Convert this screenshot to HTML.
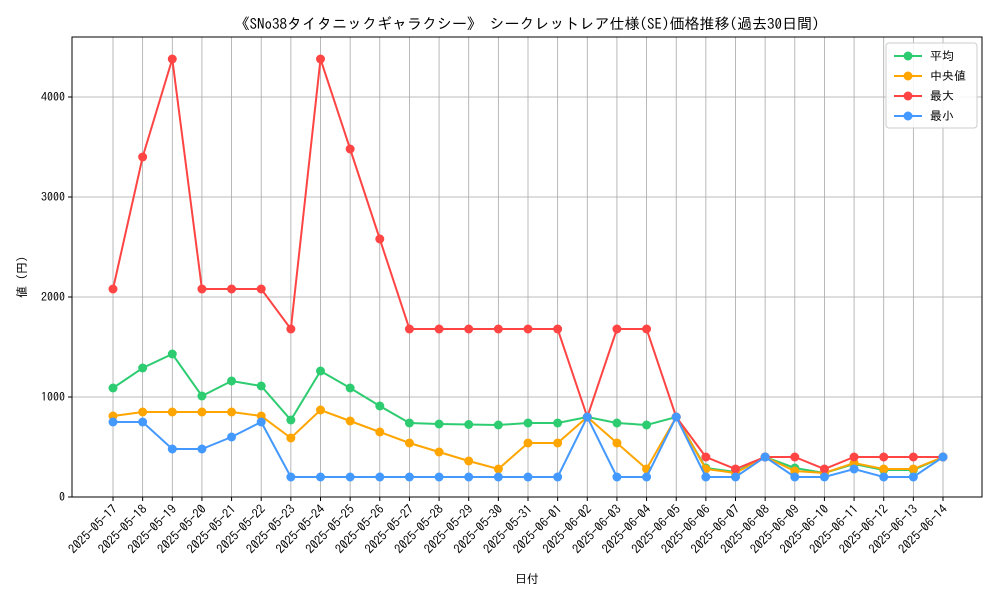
<!DOCTYPE html>
<html><head><meta charset="utf-8"><style>
body{margin:0;background:#fff;font-family:"Liberation Sans","IPAGothic","Noto Sans CJK JP",sans-serif}
svg text{font-family:"IPAGothic","Noto Sans CJK JP",sans-serif;fill:#000}
</style></head><body>
<svg id="c" width="1000" height="600" xmlns="http://www.w3.org/2000/svg">
<rect width="1000" height="600" fill="#fff"/>
<text x="527" y="29" font-size="15" text-anchor="middle">《SNo38タイタニックギャラクシー》 シークレットレア仕様(SE)価格推移(過去30日間)</text>
<g id="grid"></g><g id="axes"></g><g id="series"></g>
<text x="527" y="583" font-size="12" text-anchor="middle">日付</text>
<text x="26" y="277" font-size="12" text-anchor="middle" transform="rotate(-90 26 277)">値 (円)</text>
<g id="legend"></g>
</svg>
<script>
const dates=["2025-05-17","2025-05-18","2025-05-19","2025-05-20","2025-05-21","2025-05-22","2025-05-23","2025-05-24","2025-05-25","2025-05-26","2025-05-27","2025-05-28","2025-05-29","2025-05-30","2025-05-31","2025-06-01","2025-06-02","2025-06-03","2025-06-04","2025-06-05","2025-06-06","2025-06-07","2025-06-08","2025-06-09","2025-06-10","2025-06-11","2025-06-12","2025-06-13","2025-06-14"];
const meanVals=[1090,1290,1430,1010,1160,1110,770,1260,1090,910,740,730,725,720,740,740,800,740,720,800,290,250,400,290,240,330,270,270,400];
const medianVals=[810,850,850,850,850,810,590,870,760,650,540,450,360,280,540,540,800,540,280,800,280,240,400,260,240,340,280,280,400];
const maxVals=[2080,3400,4380,2080,2080,2080,1680,4380,3480,2580,1680,1680,1680,1680,1680,1680,800,1680,1680,800,400,280,400,400,280,400,400,400,400];
const minVals=[750,750,480,480,600,750,200,200,200,200,200,200,200,200,200,200,800,200,200,800,200,200,400,200,200,280,200,200,400];
const yTicks=[0,1000,2000,3000,4000];
const L=72,R=982,T=37,B=497;
const x=i=>113+i*(943-113)/(dates.length-1);
const y=v=>B-v*0.1;
const NS="http://www.w3.org/2000/svg";
function mk(p,t,a){const e=document.createElementNS(NS,t);for(const k in a)e.setAttribute(k,a[k]);p.appendChild(e);return e;}
const grid=document.getElementById('grid'),axes=document.getElementById('axes'),ser=document.getElementById('series'),leg=document.getElementById('legend');
dates.forEach((d,i)=>{
 const g=mk(grid,'line',{x1:x(i),x2:x(i),y1:T,y2:B,stroke:'#a8a8a8','stroke-width':0.8});
 
 
 mk(axes,'line',{x1:x(i),x2:x(i),y1:B,y2:B+4,stroke:'#000'});
 const t=mk(axes,'text',{x:x(i)+5,y:B+13,'font-size':12.5,'text-anchor':'end',transform:`rotate(-45 ${x(i)+5} ${B+13})`});
 t.textContent=d;
 
 
});
yTicks.forEach(v=>{
 const g=mk(grid,'line',{x1:L,x2:R,y1:y(v),y2:y(v),stroke:'#a8a8a8','stroke-width':0.8});
 
 
 mk(axes,'line',{x1:L-4,x2:L,y1:y(v),y2:y(v),stroke:'#000'});
 const t=mk(axes,'text',{x:L-7,y:y(v)+4,'font-size':12,'text-anchor':'end'});
 t.textContent=v;
 
 
});
const fr=mk(axes,'rect',{x:L,y:T,width:R-L,height:B-T,fill:'none',stroke:'#000','stroke-width':1});


const series=[["平均",meanVals,"#2ecc71","mean"],[" 中央値",medianVals,"#ffa500","median"],["最大",maxVals,"#ff4444","max"],["最小",minVals,"#4499ff","min"]];
series.forEach(([n,vals,c,id])=>{
 const g=mk(ser,'g',{});
 
 
 const pl=mk(g,'polyline',{points:vals.map((v,i)=>x(i)+','+y(v)).join(' '),fill:'none',stroke:c,'stroke-width':2});
 
 
 vals.forEach((v,i)=>{const p=mk(g,'circle',{cx:x(i),cy:y(v),r:4.5,fill:c});
  
  });
});
const lb=mk(leg,'rect',{x:886,y:43,width:91,height:85,rx:3,fill:'#fff','fill-opacity':0.85,stroke:'#ccc'});


series.forEach(([n,vals,c,id],k)=>{
 const yy=56+k*20;
 const g=mk(leg,'g',{});
 
 
 mk(g,'line',{x1:894,x2:922,y1:yy,y2:yy,stroke:c,'stroke-width':2});
 mk(g,'circle',{cx:908,cy:yy,r:4.5,fill:c});
 const t=mk(g,'text',{x:930,y:yy+4,'font-size':12});
 t.textContent=n;
});
</script>
</body></html>
